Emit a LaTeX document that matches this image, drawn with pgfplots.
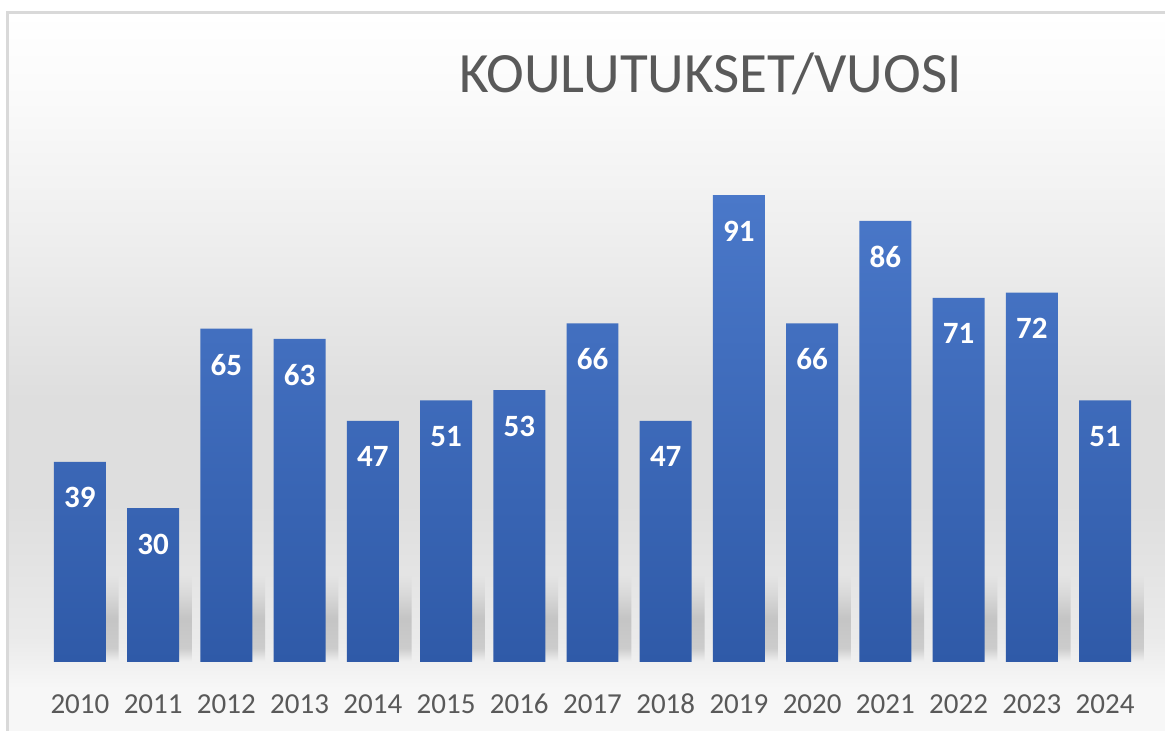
\documentclass[border=0pt]{standalone}
\usepackage{pgfplots}
\pgfplotsset{compat=1.18}
\usepackage{fontspec}
\setmainfont{Carlito}
\definecolor{barTop}{HTML}{4A78C9}
\definecolor{barBot}{HTML}{2F5AA8}
\definecolor{txtgray}{HTML}{595959}
\definecolor{framegray}{HTML}{D9D9D9}
\pgfdeclareverticalshading{bgshade}{100bp}{color(0bp)=(white!97!black); color(25bp)=(white!97!black); color(27.85bp)=(white!97!black); color(31.35bp)=(white!92!black); color(36.9bp)=(white!89!black); color(41bp)=(white!87!black); color(48bp)=(white!87!black); color(58.45bp)=(white!93!black); color(68.9bp)=(white!98!black); color(75bp)=(white); color(100bp)=(white)}
\pgfdeclareverticalshading{shadowshade}{100bp}{color(0bp)=(white!95!black); color(25bp)=(white!95!black); color(33bp)=(white!80!black); color(50bp)=(white!77!black); color(64bp)=(white!85!black); color(75bp)=(white!89.5!black); color(100bp)=(white!89.5!black)}
\begin{document}
\begin{tikzpicture}
\useasboundingbox (0,0) rectangle (1165pt,731pt);
\fill[white] (0,0) rectangle (1165pt,731pt);
\shade[shading=bgshade] (8.5pt,0) rectangle (1165pt,718pt);
\draw[framegray, line width=2.5pt] (7.5pt,0) -- (7.5pt,718.5pt) -- (1166pt,718.5pt);
\begin{axis}[
  at={(36pt,69pt)}, anchor=south west,
  scale only axis, width=1113pt, height=513pt,
  xmin=-0.6, xmax=14.6, ymin=0, ymax=100,
  axis line style={draw=none},
  tick style={draw=none},
  ytick=\empty,
  xtick={0,...,14},
  xticklabels={2010,2011,2012,2013,2014,2015,2016,2017,2018,2019,2020,2021,2022,2023,2024},
  xticklabel style={font=\fontsize{29}{32}\selectfont, text=txtgray, anchor=base, yshift=-47pt, inner sep=0pt},
  /pgf/number format/assume math mode=true,
  ybar, bar width=0.71,
]
% shadows behind the bars
\addplot[draw=none, shading=shadowshade, bar shift=0.22, bar width=0.62] coordinates {
(0,17) (1,17) (2,17) (3,17) (4,17) (5,17) (6,17) (7,17) (8,17) (9,17) (10,17) (11,17) (12,17) (13,17) (14,17)};
\addplot[draw=none, top color=barTop, bottom color=barBot, bar shift=0,
  nodes near coords,
  nodes near coords style={font=\bfseries\fontsize{31}{31}\selectfont, text=white, anchor=center, yshift=-36pt}] coordinates {
(0,39) (1,30) (2,65) (3,63) (4,47) (5,51) (6,53) (7,66) (8,47) (9,91) (10,66) (11,86) (12,71) (13,72) (14,51)};
\end{axis}
\node[anchor=base, text=txtgray, font=\fontsize{57}{64}\selectfont, inner sep=0pt] at (710.5pt,638pt) {KOULUTUKSET/VUOSI};
\end{tikzpicture}
\end{document}
